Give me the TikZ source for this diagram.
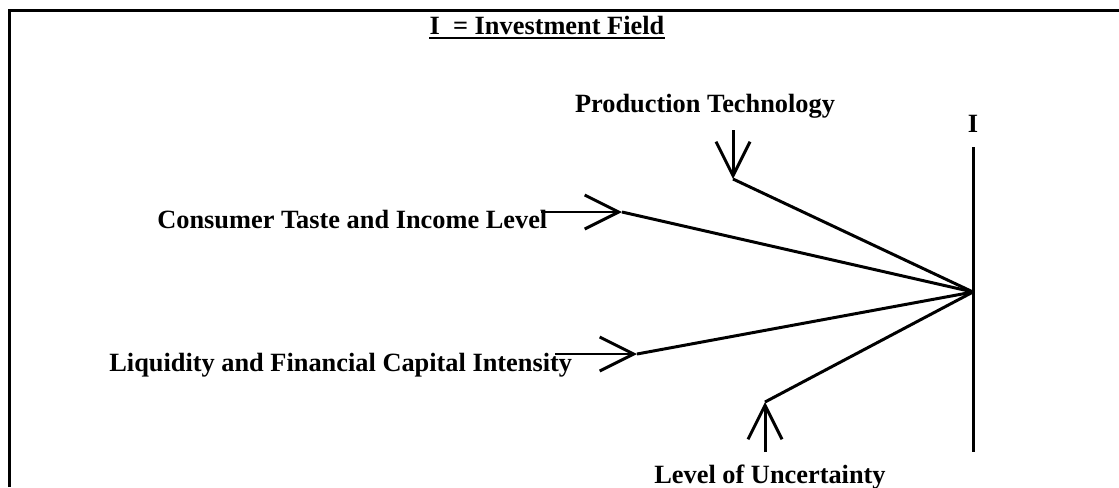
\documentclass[tikz,border=0pt]{standalone}
\usepackage{fontspec}
\setmainfont{Liberation Serif}
\usepackage{tikz}
\usetikzlibrary{arrows.meta}

\begin{document}
\begin{tikzpicture}[x=0.02cm, y=-0.02cm,
    lbl/.style={font=\fontsize{15}{18}\selectfont\bfseries, inner sep=0pt},
    feed/.style={line width=1.7pt, -{Straight Barb[length=0.68cm, width=0.68cm]}},
    link/.style={line width=1.7pt}]
  \useasboundingbox (0,0) rectangle (1119,487);
  % marco
  \draw[line width=1.7pt, line join=miter] (9.5,487) -- (9.5,10.5) -- (1119,10.5);
  % titulo
  \node[lbl, anchor=base] (ttl) at (547,34) {I~ = Investment Field};
  \draw[line width=1.4pt] ([yshift=-0.08cm]ttl.base west) -- ([yshift=-0.08cm]ttl.base east);
  % eje I
  \coordinate (itop) at (973,147);
  \coordinate (ibot) at (973,452);
  \coordinate (hub) at (973,292);
  \draw[link] (itop) -- (ibot);
  \node[lbl, anchor=base] (ilbl) at (973,132) {I};
  % rotulos
  \node[lbl, anchor=base] (prod) at (705,112) {Production Technology};
  \node[lbl, anchor=base west] (cons) at (157,228) {Consumer Taste and Income Level};
  \node[lbl, anchor=base west] (liq) at (109,371) {Liquidity and Financial Capital Intensity};
  \node[lbl, anchor=base] (unc) at (770,483) {Level of Uncertainty};
  % flechas
  \coordinate (prodin) at (733,130);  \coordinate (prodtip) at (733,179);
  \coordinate (consin) at (541,212);  \coordinate (constip) at (622,212);
  \coordinate (liqin) at (555,354);   \coordinate (liqtip) at (637,354);
  \coordinate (uncin) at (765,452);   \coordinate (unctip) at (765,402);
  \draw[feed] (prodin) -- (prodtip);
  \draw[feed] (consin) -- (constip);
  \draw[feed] (liqin) -- (liqtip);
  \draw[feed] (uncin) -- (unctip);
  % hacia I
  \draw[link] (prodtip) -- (hub);
  \draw[link] (constip) -- (hub);
  \draw[link] (liqtip) -- (hub);
  \draw[link] (unctip) -- (hub);
\end{tikzpicture}
\end{document}
